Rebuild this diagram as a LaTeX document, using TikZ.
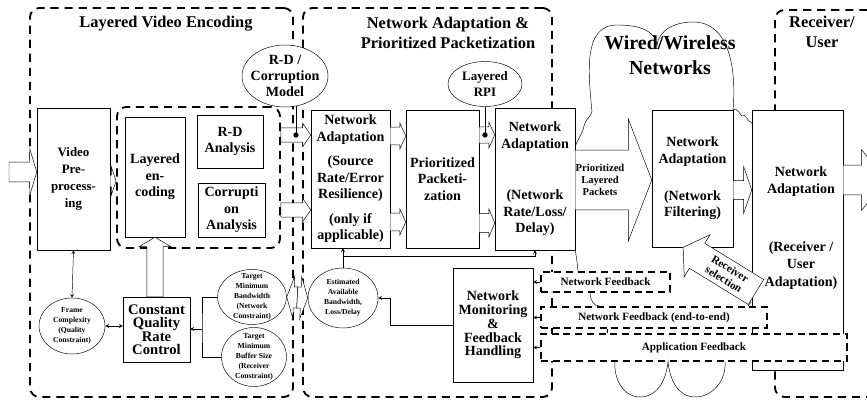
\documentclass[tikz,border=0pt]{standalone}
\usepackage{fontspec}
\setmainfont{Liberation Serif}
\usetikzlibrary{arrows,shapes,positioning,calc}

% hollow block arrow: from, to, shaft half width, head half width, head length
\newcommand{\blockarrow}[5]{%
  \coordinate (ba-s) at #1;
  \coordinate (ba-e) at #2;
  \coordinate (ba-h) at ($(ba-e)!#5!(ba-s)$);
  \draw[fill=white] ($(ba-s)!#3!90:(ba-e)$) -- ($(ba-h)!#3!90:(ba-e)$) -- ($(ba-h)!#4!90:(ba-e)$)
    -- (ba-e) -- ($(ba-h)!#4!-90:(ba-e)$) -- ($(ba-h)!#3!-90:(ba-e)$) -- ($(ba-s)!#3!-90:(ba-e)$) -- cycle;}

\begin{document}
\begin{tikzpicture}[x=0.03cm, y=-0.03cm, >=stealth,
    box/.style={rectangle, draw, fill=white, align=center, inner sep=1pt,
                font=\fontsize{12}{14}\selectfont\bfseries},
    circ/.style={ellipse, draw, fill=white, align=center, inner sep=-4pt,
                 font=\fontsize{6.5}{8.5}\selectfont\bfseries},
    group/.style={draw, line width=1.6pt, dash pattern=on 7pt off 5pt, rounded corners=8pt},
    fbox/.style={draw, fill=white, line width=1.2pt, dash pattern=on 6pt off 4pt,
                 font=\fontsize{9.5}{11}\selectfont\bfseries, inner sep=0pt},
    title/.style={align=center, font=\fontsize{14}{17}\selectfont\bfseries},
    dot/.style={circle, fill, inner sep=1.6pt}
]
    \useasboundingbox (0,0) rectangle (867,403);
    \clip (0,0) rectangle (867,403);

    % Groups
    \node[group, minimum width=7.89cm, minimum height=11.67cm] (encgrp) at (161.5,202.5) {};
    \node[group, minimum width=7.47cm, minimum height=11.67cm] (pktgrp) at (427.5,202.5) {};
    \node[group, minimum width=3.9cm, minimum height=11.61cm] (rcvgrp) at (840,203.5) {};
    \node[group, minimum width=4.89cm, minimum height=4.23cm] (lgrp) at (198.5,177.5) {};

    % Titles
    \node[title] (enctitle) at (166,24) {Layered Video Encoding};
    \node[title] (pkttitle) at (448,33) {Network Adaptation \&\\Prioritized Packetization};
    \node[title] (rcvtitle) at (822,32) {Receiver/\\User};
    \node[title, font=\fontsize{17}{21}\selectfont\bfseries] (nettitle) at (670,55) {Wired/Wireless\\Networks};

    % Encoder side
    \node[box, minimum width=2.19cm, minimum height=4.26cm, font=\fontsize{11}{14.5}\selectfont\bfseries]
        (vpre) at (73.5,179) {Video\\Pre-\\process-\\ing};
    \node[box, minimum width=1.8cm, minimum height=3.6cm] (lenc) at (155,177) {Layered\\en-\\coding};
    \node[box, minimum width=1.98cm, minimum height=1.59cm] (rda) at (230,141.5) {R-D\\Analysis};
    \node[box, minimum width=2.01cm, minimum height=1.62cm] (corr) at (231.5,210) {Corrupti\\on\\Analysis};
    \node[box, minimum width=2.01cm, minimum height=1.95cm, font=\fontsize{12.5}{11.5}\selectfont\bfseries]
        (cqrc) at (156.5,329.5) {Constant\\Quality\\Rate\\Control};
    \node[circ, minimum width=1.98cm, minimum height=1.68cm] (fcomp) at (72,326)
        {Frame\\Complexity\\(Quality\\Constraint)};
    \node[circ, minimum width=2.07cm, minimum height=1.65cm] (tmbw) at (252,297)
        {Target\\Minimum\\Bandwidth\\(Network\\Constraint)};
    \node[circ, minimum width=1.95cm, minimum height=1.77cm] (tmbuf) at (254,357)
        {Target\\Minimum\\Buffer Size\\(Receiver\\Constraint)};
    \node[circ, minimum width=2.58cm, minimum height=1.86cm, inner sep=-5pt,
          font=\fontsize{12}{13.5}\selectfont\bfseries] (rdmodel) at (285,76) {R-D /\\Corruption\\Model};

    % Packetization side
    \node[box, minimum width=2.37cm, minimum height=4.14cm] (srcna) at (350.5,179)
        {Network\\Adaptation\\[7pt](Source\\Rate/Error\\Resilience)\\[7pt](only if\\applicable)};
    \node[box, minimum width=2.19cm, minimum height=4.14cm] (prio) at (442.5,179)
        {Prioritized\\Packeti-\\zation};
    \node[box, minimum width=2.4cm, minimum height=4.26cm] (netna) at (535,179)
        {Network\\Adaptation\\[30pt](Network\\Rate/Loss/\\Delay)};
    \node[circ, minimum width=2.22cm, minimum height=1.35cm, inner sep=-2pt,
          font=\fontsize{11}{13}\selectfont\bfseries] (rpi) at (485,84) {Layered\\RPI};
    \node[circ, minimum width=2.1cm, minimum height=1.8cm] (est) at (343,298)
        {Estimated\\Available\\Bandwidth,\\Loss/Delay};
    \node[box, minimum width=2.4cm, minimum height=3.42cm, font=\fontsize{12}{11.7}\selectfont\bfseries]
        (mon) at (493,325) {Network\\Monitoring\\\&\\Feedback\\Handling};

    % Network and receiver
    \draw (netna.east |- 0,147) to[out=75,in=260] (584,126) to[out=80,in=250] (592,112)
        to[out=95,in=180] (617,25) to[out=0,in=95] (657,46) to[out=85,in=180] (693,22)
        to[out=0,in=85] (733,110);
    \node[box, minimum width=2.43cm, minimum height=4.11cm] (filt) at (692.5,178.5)
        {Network\\Adaptation\\[18pt](Network\\Filtering)};
    \node[box, minimum width=2.73cm, minimum height=7.8cm] (recv) at (797.5,240) {};
    \node[font=\fontsize{12}{15}\selectfont\bfseries, align=center] (recvtxt) at (801,228)
        {Network\\Adaptation\\[34pt](Receiver /\\User\\Adaptation)};
    \draw (filt.north east) to[out=45,in=135] (742,116) to[out=45,in=160] (recv.west |- 0,123);

    % Feedback
    \node[fbox, minimum width=3.87cm, minimum height=0.6cm] (netfb) at (605.5,282) {Network Feedback};
    \node[fbox, minimum width=6.78cm, minimum height=0.63cm] (e2efb) at (654,317.5)
        {Network Feedback (end-to-end)};
    \node[fbox, minimum width=9.18cm, minimum height=0.8cm] (appfb) at (694,347.5) {Application Feedback};
    \draw[->] (netfb.west) -- (netfb.west -| mon.east);
    \draw[->] (e2efb.west) -- (e2efb.west -| mon.east);
    \draw[->] (appfb.west) -- (appfb.west -| mon.east);
    \draw (netna.south east) to[out=-80,in=95] (netfb.north -| 578,0);
    \draw (netfb.south -| 590,0) to[out=-90,in=180] (e2efb.north -| 600,0);
    \draw (e2efb.south -| 607,0) -- (appfb.north -| 607,0);
    \draw (appfb.south -| 615,0) to[out=-95,in=180] (640,397) to[out=0,in=-95] (appfb.south -| 668,0)
        to[out=-85,in=180] (695,397) to[out=0,in=-85] (appfb.south -| 725,0);

    % Block arrows
    \coordinate (vin) at (9,172);
    \blockarrow{(vin)}{(vin -| vpre.west)}{8.5pt}{20pt}{6pt}
    \blockarrow{(vpre.east |- 0,181)}{(lgrp.west |- 0,181)}{5pt}{12pt}{4pt}
    \blockarrow{(cqrc.north -| 155,0)}{(lenc.south -| 155,0)}{7pt}{13.5pt}{8pt}
    \blockarrow{(lgrp.east |- 0,135)}{(srcna.west |- 0,135)}{6pt}{10pt}{7pt}
    \blockarrow{(lgrp.east |- 0,210)}{(srcna.west |- 0,210)}{6pt}{10pt}{7pt}
    \blockarrow{(srcna.east |- 0,136)}{(prio.west |- 0,136)}{7.5pt}{11pt}{5pt}
    \blockarrow{(srcna.east |- 0,222)}{(prio.west |- 0,222)}{7.5pt}{11pt}{5pt}
    \blockarrow{(prio.east |- 0,135)}{(netna.west |- 0,135)}{7pt}{11pt}{5pt}
    \blockarrow{(prio.east |- 0,223)}{(netna.west |- 0,223)}{8pt}{12pt}{5pt}
    \blockarrow{(netna.east |- 0,180)}{(filt.west |- 0,180)}{25.5pt}{52pt}{20pt}
    \node[font=\fontsize{9}{10.5}\selectfont\bfseries, align=center] (plp) at (600,180)
        {Prioritized\\Layered\\Packets};
    \blockarrow{(filt.east |- 0,190)}{(recv.west |- 0,190)}{8pt}{20pt}{7pt}
    \coordinate (vout) at (885,180);
    \blockarrow{(recv.east |- vout)}{(vout)}{12.75pt}{26pt}{20pt}
    \coordinate (selfrom) at (756,292);
    \blockarrow{(selfrom)}{([xshift=-8pt]filt.south)}{12.5pt}{21pt}{14pt}
    \node[font=\fontsize{9.5}{10.5}\selectfont\bfseries, align=center, rotate=-31.6, inner sep=0pt]
        (seltxt) at (727,274) {Receiver\\selection};
    \draw (selfrom) ++(-5,10) to[out=-100,in=90] (e2efb.north -| 748,0);
    \coordinate (bwmid) at ($(tmbw.east)!0.5!(est.west)$);
    \blockarrow{(bwmid)}{(tmbw.east)}{9pt}{18pt}{6pt}
    \blockarrow{(bwmid)}{(est.west)}{9pt}{18pt}{6pt}

    % Connectors
    \draw[<->] (vpre.south) -- (fcomp.north);
    \draw[<->] (fcomp.east) -- (fcomp.east -| cqrc.west);
    \coordinate (brk) at (202,329);
    \draw (tmbw.west) -| (brk) |- (tmbuf.west);
    \draw[->] (brk) -- (brk -| cqrc.east);
    \draw (rdmodel.-70) -- (rdmodel.-70 |- 0,135) node[dot] (rddot) {};
    \draw (rpi.south) -- (rpi.south |- 0,135) node[dot] (rpidot) {};
    \draw[->] (mon.west) -| ([xshift=10pt]est.east) -- (est.east);
    \coordinate (estj) at (est.north |- 0,256);
    \draw[->] (est.north) -- (est.north |- srcna.south);
    \draw[->] (estj) -| (netna.south);
\end{tikzpicture}
\end{document}
